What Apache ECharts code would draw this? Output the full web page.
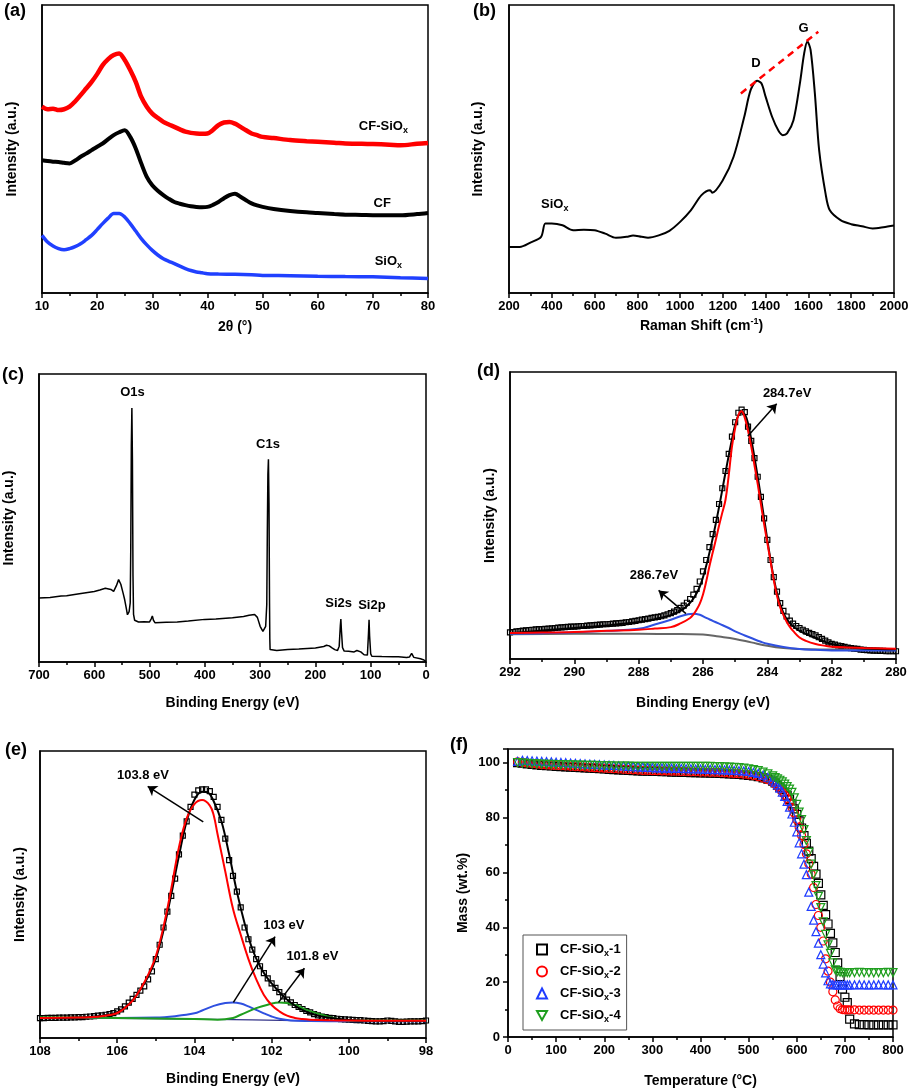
<!DOCTYPE html>
<html>
<head>
<meta charset="utf-8">
<script src="https://cdn.jsdelivr.net/npm/echarts@6/dist/echarts.min.js"></script>
<style>
  html, body { margin: 0; padding: 0; background: #fff; }
  #chart { width: 912px; height: 1091px; }
</style>
</head>
<body>
<div id="chart"></div>
<script>
// (a) XRD, [2theta, intensity a.u.]
const xrdCF_SiOx = [[10,64.7],[11,63.8],[12,64.0],[13,63.5],[14,63.8],[15,64.7],[16,66.5],[17,68.7],[18,71.0],[19,73.3],[20,76.0],[21,79.1],[22,81.2],[23,82.6],[24,83.2],[25,80.9],[26,77.4],[27,73.3],[28,68.1],[29,64.7],[30,62.3],[31,60.8],[32,59.4],[33,58.5],[34,57.7],[35,56.8],[36,56.0],[37,55.6],[38,55.4],[39,55.3],[40,55.4],[41,56.6],[42,58.3],[43,59.2],[44,59.4],[45,58.8],[46,57.7],[47,56.5],[48,55.4],[49,54.8],[50,54.2],[52,53.8],[55,53.1],[58,52.7],[60,52.5],[63,52.2],[65,51.9],[68,51.8],[70,51.7],[73,51.5],[75,51.3],[78,51.8],[80,52.1]];
const xrdCF = [[10,46.1],[11,45.8],[12,45.6],[13,45.5],[14,45.2],[15,45.0],[16,46.0],[17,47.3],[18,48.4],[19,49.6],[20,50.8],[21,51.9],[22,53.4],[23,54.8],[24,55.8],[25,56.5],[26,54.2],[27,50.2],[28,45.0],[29,40.3],[30,37.4],[31,35.5],[32,34.0],[33,32.7],[34,31.6],[35,31.0],[36,30.5],[37,30.1],[38,29.9],[39,29.8],[40,29.9],[41,30.6],[42,31.6],[43,32.9],[44,34.0],[45,34.5],[46,33.4],[47,32.2],[48,31.1],[49,30.4],[50,29.9],[52,29.2],[55,28.5],[58,28.0],[60,27.8],[63,27.4],[65,27.2],[68,27.1],[70,27.0],[73,27.0],[75,27.0],[78,27.4],[80,27.8]];
const xrdSiOx = [[10,20.0],[11,17.7],[12,16.3],[13,15.4],[14,15.0],[15,15.4],[16,16.1],[17,17.1],[18,18.5],[19,20.0],[20,22.0],[21,24.1],[22,26.0],[23,27.6],[24,27.6],[25,26.4],[26,24.1],[27,21.5],[28,18.9],[29,16.7],[30,14.8],[31,13.2],[32,11.9],[33,11.0],[34,10.2],[35,9.3],[36,8.5],[37,7.8],[38,7.3],[39,7.0],[40,6.7],[42,6.6],[45,6.5],[48,6.3],[50,6.1],[55,6.0],[60,5.8],[65,5.7],[70,5.6],[75,5.3],[80,5.0]];
const xrdNotes = [['CF-SiOx', 72.0, 57.7], ['CF', 71.8, 31.1], ['SiOx', 72.9, 10.8]];

// (b) Raman, [shift, intensity]
const raman = [[200,16.0],[250,16.0],[300,17.5],[350,19.5],[370,24.1],[400,24.1],[450,23.5],[500,21.8],[550,22.0],[600,21.8],[650,20.6],[700,19.2],[750,19.5],[780,20.0],[820,19.5],[850,19.2],[900,20.0],[950,21.6],[1000,24.7],[1050,28.7],[1100,34.0],[1140,35.7],[1150,34.8],[1200,39.2],[1250,47.3],[1300,61.2],[1330,70.5],[1360,73.7],[1380,72.8],[1400,68.1],[1430,61.2],[1460,56.3],[1480,54.8],[1500,55.4],[1530,60.0],[1560,72.8],[1580,83.2],[1595,87.3],[1610,84.4],[1630,69.3],[1650,49.6],[1680,34.5],[1700,28.7],[1750,25.3],[1800,23.9],[1850,23.2],[1900,22.4],[1950,22.8],[2000,23.4]];
const ramanDG = [[1284,69.3],[1646,90.7]];
const ramanNotes = [['D', 1357, 79.7], ['G', 1579, 91.7], ['SiOx', 416, 30.5]];

// (c) XPS survey, [binding energy, intensity]
const survey = [[700,22.2],[680,22.4],[660,22.9],[650,23.0],[630,23.6],[600,24.5],[590,25.0],[580,25.6],[570,25.2],[565,24.5],[560,26.5],[556,28.6],[552,27.0],[548,24.0],[545,21.6],[542,18.5],[540,16.4],[537,17.5],[535,20.5],[534,40],[533,75],[532,88.2],[531,70],[530,30],[529,16.5],[527,14.5],[520,13.9],[510,14.0],[500,13.9],[497,15.0],[495,16.0],[493,14.5],[490,13.6],[470,13.8],[450,13.9],[430,14.2],[400,14.8],[380,14.9],[350,15.4],[330,15.8],[320,16.2],[310,16.5],[305,15.5],[300,12.4],[295,10.6],[292,11.0],[290,12.4],[288,20],[287,45],[286,65],[285,70.4],[284,55],[283,20],[282.5,8],[282,4.3],[270,4.0],[250,4.3],[230,4.5],[200,4.9],[185,5.4],[180,5.8],[175,5.6],[170,4.9],[165,4.3],[160,4.0],[157,5.5],[155,12.5],[154,14.9],[153,11],[151,5],[148,3.8],[140,3.7],[130,3.5],[125,4.0],[122,4.2],[118,3.5],[112,2.5],[106,2.4],[104,10],[103,14.7],[102,9],[100,2.8],[98,2.0],[80,1.9],[60,1.8],[50,1.8],[35,1.6],[30,1.7],[26,3.0],[25,3.5],[24,3.0],[22,1.6],[20,1.4],[10,1.1],[5,0.8],[0,0.2]];
const surveyNotes = [['O1s', 530, 93.3], ['C1s', 285, 75.4], ['Si2s', 157, 20.2], ['Si2p', 97, 19.3]];

// (d) C1s, measured points
const c1sEnergy = [292.0,291.9,291.8,291.7,291.6,291.5,291.4,291.3,291.2,291.1,291.0,290.9,290.8,290.7,290.6,290.5,290.4,290.3,290.2,290.1,290.0,289.9,289.8,289.7,289.6,289.5,289.4,289.3,289.2,289.1,289.0,288.9,288.8,288.7,288.6,288.5,288.4,288.3,288.2,288.1,288.0,287.9,287.8,287.7,287.6,287.5,287.4,287.3,287.2,287.1,287.0,286.9,286.8,286.7,286.6,286.5,286.4,286.3,286.2,286.1,286.0,285.9,285.8,285.7,285.6,285.5,285.4,285.3,285.2,285.1,285.0,284.9,284.8,284.7,284.6,284.5,284.4,284.3,284.2,284.1,284.0,283.9,283.8,283.7,283.6,283.5,283.4,283.3,283.2,283.1,283.0,282.9,282.8,282.7,282.6,282.5,282.4,282.3,282.2,282.1,282.0,281.9,281.8,281.7,281.6,281.5,281.4,281.3,281.2,281.1,281.0,280.9,280.8,280.7,280.6,280.5,280.4,280.3,280.2,280.1,280.0];
const c1sCounts = [9.3,9.4,9.6,9.7,9.9,10.0,10.1,10.2,10.3,10.4,10.4,10.5,10.6,10.7,10.8,10.9,11.0,11.1,11.2,11.3,11.3,11.4,11.5,11.5,11.6,11.7,11.8,11.9,12.0,12.1,12.1,12.2,12.3,12.4,12.5,12.6,12.8,12.9,13.1,13.3,13.5,13.7,13.9,14.1,14.3,14.5,14.7,14.9,15.2,15.6,16.0,16.5,17.0,17.8,18.6,19.6,20.9,22.4,24.4,27.0,30.5,34.5,39.0,43.5,48.5,54.0,59.5,65.5,71.5,77.5,82.5,85.8,86.9,86.0,81.0,76.0,70.0,63.5,56.5,49.0,41.5,34.5,28.5,23.5,19.5,16.8,14.8,13.4,12.3,11.5,10.8,10.2,9.6,9.1,8.7,8.2,7.6,7.0,6.4,5.8,5.3,5.0,4.7,4.5,4.2,4.0,3.8,3.6,3.5,3.3,3.2,3.1,3.0,2.9,2.9,2.8,2.8,2.7,2.7,2.7,2.7];
const c1sFit = [[292,9.0],[291,9.9],[290,10.8],[289,11.7],[288,12.9],[287.5,13.9],[287,15.3],[286.7,16.8],[286.5,18.5],[286.3,21.0],[286.1,25.2],[285.9,32.5],[285.7,42.0],[285.5,53.0],[285.3,65.0],[285.1,76.5],[284.95,83.5],[284.8,86.0],[284.65,84.0],[284.5,76.5],[284.3,63.5],[284.1,49.0],[283.9,34.5],[283.7,23.0],[283.5,16.0],[283.3,12.5],[283.0,9.8],[282.5,7.3],[282,5.2],[281.5,4.2],[281,3.7],[280,3.4]];
const c1sCC = [[292,9.1],[291,9.2],[290,9.4],[289,9.8],[288,10.2],[287.5,10.6],[287,11.1],[286.7,12.4],[286.4,14.3],[286.3,15.5],[286.2,17.2],[286.1,19.3],[286.0,22.5],[285.9,27],[285.8,32.3],[285.7,37],[285.6,41.6],[285.5,46.5],[285.4,51],[285.3,55.5],[285.2,64],[285.1,74],[285.0,80.5],[284.9,85],[284.8,86.3],[284.7,84],[284.6,79.5],[284.5,74],[284.4,67.5],[284.3,61],[284.2,54],[284.1,47],[284.0,40.5],[283.9,34],[283.8,27.5],[283.7,22],[283.6,18],[283.5,15.3],[283.4,13],[283.3,11.2],[283.2,9.8],[283.0,7.5],[282.8,6.3],[282.5,5.2],[282.2,4.6],[282.0,4.3],[281.5,4.0],[281,3.8],[280,3.6]];
const c1sCO = [[292,8.8],[291,9.0],[290,9.3],[289,9.8],[288,10.5],[287.5,12.0],[287,13.7],[286.7,14.9],[286.5,15.5],[286.3,15.8],[286.1,15.4],[285.9,14.3],[285.7,13.3],[285.5,12.3],[285.2,10.8],[285,9.6],[284.7,8.2],[284.5,7.3],[284.2,6.0],[284,5.3],[283.5,4.2],[283,3.5],[282.5,3.2],[282,3.0],[281,3.0],[280,3.0]];
const c1sBase = [[292,8.6],[290,8.8],[288,8.8],[287,8.7],[286,8.5],[285.5,7.8],[285,7.0],[284.5,5.8],[284,4.6],[283.5,3.8],[283,3.5],[282,3.3],[280,3.3]];
const c1sNotes = [['284.7eV', 283.37, 92.4], ['286.7eV', 287.51, 28.8]];
const c1sArrows = [[[284.61, 77.6], [283.71, 88.9]], [[286.53, 15.8], [287.38, 23.9]]];

// (e) Si2p, measured points
const si2pEnergy = [108.0,107.9,107.8,107.7,107.6,107.5,107.4,107.3,107.2,107.1,107.0,106.9,106.8,106.7,106.6,106.5,106.4,106.3,106.2,106.1,106.0,105.9,105.8,105.7,105.6,105.5,105.4,105.3,105.2,105.1,105.0,104.9,104.8,104.7,104.6,104.5,104.4,104.3,104.2,104.1,104.0,103.9,103.8,103.7,103.6,103.5,103.4,103.3,103.2,103.1,103.0,102.9,102.8,102.7,102.6,102.5,102.4,102.3,102.2,102.1,102.0,101.9,101.8,101.7,101.6,101.5,101.4,101.3,101.2,101.1,101.0,100.9,100.8,100.7,100.6,100.5,100.4,100.3,100.2,100.1,100.0,99.9,99.8,99.7,99.6,99.5,99.4,99.3,99.2,99.1,99.0,98.9,98.8,98.7,98.6,98.5,98.4,98.3,98.2,98.1,98.0];
const si2pCounts = [6.9,6.9,7.0,7.0,7.0,7.1,7.1,7.1,7.2,7.2,7.3,7.3,7.4,7.5,7.6,7.8,7.9,8.1,8.3,8.7,9.3,10.0,11.0,12.3,13.6,15.0,16.5,18.0,20.4,23.2,27.5,32.5,38.5,44.0,49.5,55.5,64.0,70.5,75.5,80.5,84.8,86.3,86.6,86.6,86.0,84.0,80.5,76.0,69.5,62.0,56.5,51.0,45.5,38.5,34.4,30.8,27.5,25.0,22.6,20.8,19.0,17.5,16.0,14.5,13.4,12.4,11.5,10.8,10.1,9.4,8.9,8.3,7.9,7.5,7.3,7.0,6.9,6.7,6.6,6.5,6.4,6.3,6.2,6.2,6.1,6.0,5.9,5.8,5.8,5.9,6.1,6.0,5.8,5.6,5.6,5.7,5.8,5.8,5.8,5.9,6.1];
const si2pFit = [[108,6.9],[107,7.1],[106.5,7.6],[106.2,8.2],[106,9.0],[105.8,10.6],[105.6,13.2],[105.4,16.8],[105.2,21.3],[105.0,27.6],[104.8,37.5],[104.6,50],[104.4,63.5],[104.2,75.5],[104.0,83],[103.8,85.8],[103.65,85.5],[103.5,82.5],[103.3,75.5],[103.1,64],[102.9,51],[102.7,40],[102.5,31.0],[102.3,25.0],[102.1,20.7],[101.9,17.5],[101.7,14.6],[101.5,12.3],[101.3,10.4],[101,8.6],[100.6,7.2],[100,6.3],[99,6.0],[98,6.0]];
const si2pSiO2 = [[108,7.0],[107,7.1],[106.5,7.4],[106.2,8.0],[106,8.7],[105.8,10.5],[105.6,13.0],[105.4,17.0],[105.2,22.0],[105,28.5],[104.8,38.8],[104.6,52],[104.4,66.5],[104.2,76.5],[104.0,81.5],[103.8,82.9],[103.6,81],[103.5,77.6],[103.4,71],[103.2,58],[103.0,45],[102.8,36],[102.6,27.5],[102.4,20.5],[102.2,15.0],[102,11.5],[101.8,9.3],[101.6,7.8],[101.4,7.0],[101.2,6.6],[101,6.4],[100.5,6.2],[100,6.1],[99,6.0],[98,6.0]];
const si2pMid = [[108,7.0],[106,7.0],[105,7.1],[104.5,7.6],[104,8.6],[103.8,9.6],[103.5,11.2],[103.2,12.2],[103.0,12.4],[102.8,12.0],[102.6,11.0],[102.4,9.8],[102.2,8.6],[102,7.5],[101.8,6.7],[101.5,6.1],[101,5.9],[100,5.8],[98,5.8]];
const si2pLow = [[108,7.2],[106,7.0],[104,6.6],[103.4,6.4],[103,7.0],[102.8,8.1],[102.4,10.4],[102.1,11.6],[101.8,12.4],[101.4,11.6],[101.1,9.8],[100.7,8.1],[100.4,7.0],[100,6.1],[98,6.1]];
const si2pBase = [[108,7.0],[104,6.6],[101,6.0],[98,5.8]];
const si2pNotes = [['103.8 eV', 105.32, 91.2], ['103 eV', 101.67, 39.0], ['101.8 eV', 100.93, 28.4]];
const si2pArrows = [[[103.77, 75.3], [105.21, 87.7]], [[102.99, 12.4], [101.91, 35.3]], [[101.82, 12.4], [101.15, 24.3]]];

// (f) TGA
const tgaNames = ['CF-SiOx-1', 'CF-SiOx-2', 'CF-SiOx-3', 'CF-SiOx-4'];
const tgaTemp = [20,30,40,50,60,70,80,90,100,110,120,130,140,150,160,170,180,190,200,210,220,230,240,250,260,270,280,290,300,310,320,330,340,350,360,370,380,390,400,410,420,430,440,450,460,470,480,490,500,510,520,530,540,550,555,560,565,570,575,580,585,590,595,600,605,610,615,620,625,630,635,640,645,650,655,660,665,670,675,680,685,690,695,700,705,710,720,730,740,750,760,770,780,790,800];
const tgaMass1 = [100.0,99.8,99.6,99.4,99.2,99.0,98.9,98.8,98.7,98.6,98.5,98.4,98.3,98.2,98.1,98.0,97.9,97.8,97.7,97.6,97.5,97.4,97.3,97.2,97.1,97.0,96.9,96.9,96.8,96.8,96.7,96.7,96.6,96.6,96.5,96.5,96.4,96.4,96.3,96.3,96.2,96.2,96.1,96.0,95.9,95.8,95.7,95.6,95.4,95.2,94.9,94.5,94.0,93.3,92.6,91.8,91.0,90.3,89.2,88.0,86.6,85.0,83.2,81.2,78.8,76.2,73.4,70.6,67.8,65.0,62.2,59.4,56.0,51.8,48.0,44.6,41.2,37.8,34.3,30.8,27.0,22.0,17.5,14.5,12.5,6.5,4.8,4.5,4.5,4.4,4.4,4.4,4.4,4.4,4.4];
const tgaMass2 = [100.3,100.1,99.9,99.7,99.5,99.3,99.2,99.1,99.0,98.9,98.8,98.7,98.6,98.5,98.4,98.3,98.2,98.1,98.0,97.9,97.8,97.7,97.6,97.5,97.4,97.3,97.2,97.2,97.1,97.1,97.0,97.0,96.9,96.9,96.8,96.8,96.7,96.7,96.6,96.6,96.5,96.5,96.4,96.3,96.2,96.1,96.0,95.8,95.6,95.3,94.9,94.4,93.8,93.0,92.2,91.3,90.4,89.4,88.2,86.9,85.4,83.6,81.6,79.2,76.5,73.5,70.2,66.8,63.2,59.4,54.5,48.3,44.3,40.0,35.0,28.5,24.0,20.0,16.5,13.5,11.3,10.3,10.0,9.9,9.9,9.9,9.9,9.8,9.8,9.8,9.8,9.8,9.8,9.8,9.8];
const tgaMass3 = [100.5,100.9,100.8,100.7,100.6,100.5,100.4,100.3,100.2,100.1,100.0,99.9,99.8,99.7,99.6,99.5,99.4,99.3,99.2,99.1,99.0,98.9,98.8,98.7,98.6,98.5,98.4,98.3,98.2,98.1,98.1,98.0,98.0,97.9,97.9,97.8,97.8,97.7,97.7,97.6,97.6,97.5,97.5,97.4,97.3,97.2,97.1,97.0,96.8,96.5,96.1,95.5,94.7,93.7,92.9,91.9,90.7,89.3,87.7,85.9,83.8,81.3,78.3,74.8,70.8,66.8,63.0,59.2,52.8,47.6,42.6,38.4,34.2,30.0,26.6,23.4,20.5,19.4,19.1,19.0,19.0,19.0,19.0,19.0,19.0,19.0,19.0,19.1,19.0,19.0,19.0,19.1,19.0,19.0,19.0];
const tgaMass4 = [100.0,99.9,99.8,99.7,99.6,99.5,99.4,99.4,99.3,99.3,99.2,99.2,99.1,99.1,99.0,99.0,99.0,98.9,98.9,98.9,98.8,98.8,98.8,98.8,98.7,98.7,98.7,98.7,98.7,98.7,98.7,98.7,98.7,98.7,98.7,98.7,98.7,98.7,98.7,98.7,98.7,98.6,98.6,98.5,98.4,98.3,98.2,98.0,97.8,97.5,97.1,96.6,95.9,95.2,94.6,94.1,93.6,93.0,92.2,91.3,90.4,89.2,87.2,84.8,82.0,79.3,75.6,71.6,67.3,63.0,59.2,55.2,51.3,47.2,42.0,37.4,33.6,30.5,27.0,24.5,23.8,23.6,23.5,23.5,23.5,23.5,23.5,23.6,23.5,23.5,23.4,23.5,23.5,23.6,23.5];

const FONT = 'Arial, "Liberation Sans", sans-serif';
const RICH = {
  sub: { fontSize: 9, fontWeight: 'bold', fontFamily: FONT, color: '#000', verticalAlign: 'bottom', lineHeight: 17 },
  sup: { fontSize: 9, fontWeight: 'bold', fontFamily: FONT, color: '#000', verticalAlign: 'top', lineHeight: 18 }
};
const richify = s => s.replace('SiOx', 'SiO{sub|x}');

const grids = [
  { left: 42, top: 5, width: 386, height: 288 },
  { left: 509, top: 5, width: 385, height: 288 },
  { left: 39, top: 374, width: 387, height: 288 },
  { left: 510, top: 372, width: 386, height: 287 },
  { left: 40, top: 751, width: 386, height: 287 },
  { left: 508, top: 749, width: 385, height: 288 }
].map(g => Object.assign({ show: true, borderColor: '#000', borderWidth: 1.5 }, g));

const black = { color: '#000', width: 1.5 };

function xAx(i, min, max, interval, name, nameGap, inverse) {
  return {
    type: 'value', gridIndex: i, min, max, interval, inverse: !!inverse,
    name, nameLocation: 'middle', nameGap,
    nameTextStyle: { fontFamily: FONT, fontSize: 14, fontWeight: 'bold', color: '#000', lineHeight: 18, rich: RICH },
    axisLine: { onZero: false, lineStyle: black },
    axisTick: { show: true, inside: false, length: 5, lineStyle: black },
    minorTick: { show: true, splitNumber: 2, length: 3, lineStyle: black },
    axisLabel: { fontFamily: FONT, fontSize: 13, fontWeight: 'bold', color: '#000', margin: 7, formatter: v => String(v) },
    splitLine: { show: false }, minorSplitLine: { show: false }
  };
}
function yAx(i, name, nameGap) {
  return {
    type: 'value', gridIndex: i, min: 0, max: 100,
    name, nameLocation: 'middle', nameGap, nameRotate: 90,
    nameTextStyle: { fontFamily: FONT, fontSize: 14, fontWeight: 'bold', color: '#000' },
    axisLine: { onZero: false, lineStyle: black },
    axisTick: { show: false }, axisLabel: { show: false },
    splitLine: { show: false }
  };
}
function line(i, data, color, width, smooth) {
  return {
    type: 'line', xAxisIndex: i, yAxisIndex: i, data, showSymbol: false, silent: true,
    smooth: smooth || false, lineStyle: { color, width }, itemStyle: { color }
  };
}
function notes(i, items, arrows) {
  const s = {
    type: 'scatter', xAxisIndex: i, yAxisIndex: i, symbolSize: 1, silent: true, z: 10,
    data: items.map(n => ({ name: n[0], value: [n[1], n[2]] })),
    itemStyle: { color: 'rgba(0,0,0,0)', opacity: 1 },
    label: {
      show: true, position: [0, 0], align: 'center', verticalAlign: 'middle',
      formatter: p => richify(p.name),
      fontFamily: FONT, fontSize: 13, fontWeight: 'bold', color: '#000', lineHeight: 17, rich: RICH
    }
  };
  if (arrows) {
    s.markLine = {
      silent: true, symbol: ['none', 'arrow'], symbolSize: 9,
      lineStyle: { color: '#000', width: 1.5, type: 'solid', opacity: 1 }, label: { show: false },
      data: arrows.map(a => [{ coord: a[0] }, { coord: a[1] }])
    };
  }
  return s;
}
function points(i, xs, ys) {
  return {
    type: 'scatter', xAxisIndex: i, yAxisIndex: i, silent: true, symbol: 'rect', symbolSize: 5,
    data: xs.map((x, k) => [x, ys[k]]),
    itemStyle: { color: 'rgba(0,0,0,0)', borderColor: '#000', borderWidth: 1.2, opacity: 1 }
  };
}

const tgaColors = ['#000000', '#ff0000', '#1f3cff', '#1e9e1e'];
const tgaSymbols = ['rect', 'circle', 'triangle', 'path://M0,0L10,0L5,9Z'];
const tgaMasses = [tgaMass1, tgaMass2, tgaMass3, tgaMass4];

const panelTitles = [['(a)', 4, 2], ['(b)', 473, 2], ['(c)', 2, 366], ['(d)', 477, 362], ['(e)', 5, 741], ['(f)', 450, 736]];

const option = {
  animation: false,
  backgroundColor: '#fff',
  title: panelTitles.map(t => ({
    text: t[0], left: t[1], top: t[2], padding: 0,
    textStyle: { fontFamily: FONT, fontSize: 18, fontWeight: 'bold', color: '#000' }
  })),
  grid: grids,
  xAxis: [
    xAx(0, 10, 80, 10, '2θ (°)', 25),
    xAx(1, 200, 2000, 200, 'Raman Shift (cm{sup|-1})', 24),
    xAx(2, 0, 700, 100, 'Binding Energy (eV)', 32, true),
    xAx(3, 280, 292, 2, 'Binding Energy (eV)', 35, true),
    xAx(4, 98, 108, 2, 'Binding Energy (eV)', 32, true),
    xAx(5, 0, 800, 100, 'Temperature (°C)', 35)
  ],
  yAxis: [
    yAx(0, 'Intensity (a.u.)', 23),
    yAx(1, 'Intensity (a.u.)', 24),
    yAx(2, 'Intensity (a.u.)', 23),
    yAx(3, 'Intensity (a.u.)', 13),
    yAx(4, 'Intensity (a.u.)', 13),
    Object.assign(yAx(5, 'Mass (wt.%)', 38), {
      max: 105, interval: 20,
      axisTick: { show: true, inside: false, length: 5, lineStyle: black },
      minorTick: { show: true, splitNumber: 2, length: 3, lineStyle: black },
      axisLabel: { show: true, showMaxLabel: false, fontFamily: FONT, fontSize: 13, fontWeight: 'bold', color: '#000', margin: 8 }
    })
  ],
  legend: {
    orient: 'vertical', left: 523, top: 935, padding: [6, 6, 6, 13], itemGap: 5,
    itemWidth: 10, itemHeight: 10, borderColor: '#555', borderWidth: 1,
    data: tgaNames, selectedMode: false,
    formatter: n => richify(n),
    textStyle: { fontFamily: FONT, fontSize: 13, fontWeight: 'bold', color: '#000', lineHeight: 16, padding: [0, 0, 0, 8], rich: RICH }
  },
  series: [
    line(0, xrdCF_SiOx, '#ff0000', 4.5, 0.3),
    line(0, xrdCF, '#000000', 4, 0.3),
    line(0, xrdSiOx, '#2040ff', 3.5, 0.3),
    notes(0, xrdNotes),

    line(1, raman, '#000000', 2, 0.3),
    Object.assign(line(1, ramanDG, '#ff0000', 2.5), { lineStyle: { color: '#ff0000', width: 2.5, type: [7, 5] }, z: 5 }),
    notes(1, ramanNotes),

    line(2, survey, '#000000', 1.5),
    notes(2, surveyNotes),

    points(3, c1sEnergy, c1sCounts),
    line(3, c1sBase, '#666666', 2, 0.4),
    line(3, c1sCO, '#2f50e0', 2, 0.4),
    line(3, c1sFit, '#000000', 2, 0.4),
    line(3, c1sCC, '#ff0000', 2, 0.4),
    notes(3, c1sNotes, c1sArrows),

    points(4, si2pEnergy, si2pCounts),
    line(4, si2pBase, '#333388', 1.2, 0.4),
    line(4, si2pMid, '#2f50e0', 2, 0.4),
    line(4, si2pLow, '#1e9e1e', 2, 0.4),
    line(4, si2pFit, '#000000', 2, 0.4),
    line(4, si2pSiO2, '#ff0000', 2, 0.4),
    notes(4, si2pNotes, si2pArrows)
  ].concat(tgaNames.map((name, k) => ({
    type: 'scatter', name, xAxisIndex: 5, yAxisIndex: 5, silent: true,
    symbol: tgaSymbols[k], symbolSize: 8,
    data: tgaTemp.map((t, j) => [t, tgaMasses[k][j]]),
    itemStyle: { color: 'rgba(0,0,0,0)', borderColor: tgaColors[k], borderWidth: 1.2, opacity: 1 }
  })))
};

const chart = echarts.init(document.getElementById('chart'), null, { renderer: 'canvas' });
chart.setOption(option);
</script>
</body>
</html>
